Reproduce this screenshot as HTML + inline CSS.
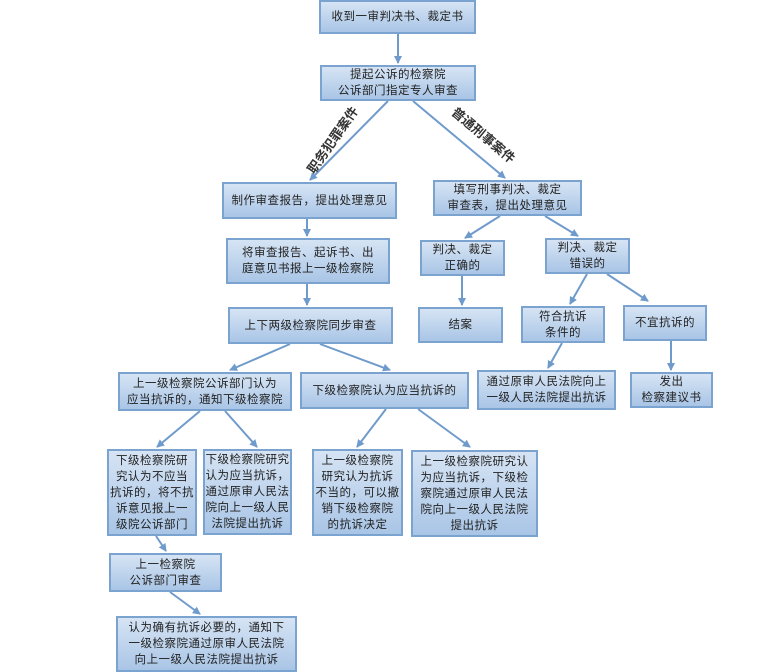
<!DOCTYPE html>
<html><head><meta charset="utf-8"><style>
body{margin:0;width:768px;height:670px;background:#fff;position:relative;overflow:hidden;font-family:"Liberation Sans","Noto Sans CJK SC",sans-serif}
.b{position:absolute;box-sizing:border-box;border:2px solid #7aa3cf;background:linear-gradient(#d6e4f4,#a9c5e6);display:flex;align-items:center;justify-content:center;text-align:center;font-size:11.5px;line-height:16px;color:#222;letter-spacing:0.5px}
svg{position:absolute;left:0;top:0}
.r{position:absolute;font-size:13px;font-weight:bold;color:#333;white-space:nowrap}
</style></head><body>
<svg width="768" height="670"><defs><marker id="a" markerWidth="8" markerHeight="8" refX="7" refY="4" orient="auto" markerUnits="userSpaceOnUse"><path d="M0,0 L8,4 L0,8 z" fill="#6f9bcc"/></marker></defs>
<g stroke="#6f9bcc" stroke-width="2" fill="none" marker-end="url(#a)">
<line x1="398" y1="34" x2="398" y2="63"/>
<line x1="388" y1="101" x2="310" y2="180"/>
<line x1="413" y1="101" x2="505" y2="178"/>
<line x1="307" y1="219" x2="307" y2="236"/>
<line x1="307" y1="284" x2="307" y2="305"/>
<line x1="500" y1="216" x2="465" y2="238"/>
<line x1="545" y1="216" x2="578" y2="236"/>
<line x1="462" y1="276" x2="462" y2="305"/>
<line x1="587" y1="274" x2="570" y2="304"/>
<line x1="607" y1="274" x2="648" y2="301"/>
<line x1="562" y1="343" x2="548" y2="368"/>
<line x1="671" y1="341" x2="671" y2="370"/>
<line x1="290" y1="344" x2="230" y2="370"/>
<line x1="320" y1="344" x2="390" y2="370"/>
<line x1="200" y1="411" x2="157" y2="447"/>
<line x1="225" y1="411" x2="257" y2="447"/>
<line x1="386" y1="409" x2="357" y2="447"/>
<line x1="418" y1="409" x2="470" y2="447"/>
<line x1="156" y1="536" x2="166" y2="551"/>
<line x1="170" y1="592" x2="200" y2="614"/>
</g></svg>
<div class="r" style="left:293px;top:130px;transform:rotate(-55deg)">职务犯罪案件</div>
<div class="r" style="left:445px;top:125px;transform:rotate(40deg)">普通刑事案件</div>
<div class="b" style="left:319px;top:0;width:157px;height:34px">收到一审判决书、裁定书</div>
<div class="b" style="left:320px;top:65px;width:156px;height:36px">提起公诉的检察院<br>公诉部门指定专人审查</div>
<div class="b" style="left:222px;top:182px;width:175px;height:37px">制作审查报告，提出处理意见</div>
<div class="b" style="left:433px;top:180px;width:149px;height:36px">填写刑事判决、裁定<br>审查表，提出处理意见</div>
<div class="b" style="left:226px;top:238px;width:164px;height:46px">将审查报告、起诉书、出<br>庭意见书报上一级检察院</div>
<div class="b" style="left:420px;top:240px;width:85px;height:36px">判决、裁定<br>正确的</div>
<div class="b" style="left:545px;top:238px;width:85px;height:36px">判决、裁定<br>错误的</div>
<div class="b" style="left:228px;top:307px;width:165px;height:37px">上下两级检察院同步审查</div>
<div class="b" style="left:418px;top:307px;width:85px;height:36px">结案</div>
<div class="b" style="left:521px;top:306px;width:84px;height:37px">符合抗诉<br>条件的</div>
<div class="b" style="left:623px;top:305px;width:84px;height:36px">不宜抗诉的</div>
<div class="b" style="left:118px;top:372px;width:174px;height:39px">上一级检察院公诉部门认为<br>应当抗诉的，通知下级检察院</div>
<div class="b" style="left:300px;top:372px;width:169px;height:37px">下级检察院认为应当抗诉的</div>
<div class="b" style="left:477px;top:370px;width:139px;height:40px">通过原审人民法院向上<br>一级人民法院提出抗诉</div>
<div class="b" style="left:630px;top:372px;width:83px;height:36px">发出<br>检察建议书</div>
<div class="b" style="left:107px;top:449px;width:90px;height:87px">下级检察院研<br>究认为不应当<br>抗诉的，将不抗<br>诉意见报上一<br>级院公诉部门</div>
<div class="b" style="left:203px;top:449px;width:89px;height:86px">下级检察院研究<br>认为应当抗诉，<br>通过原审人民法<br>院向上一级人民<br>法院提出抗诉</div>
<div class="b" style="left:312px;top:449px;width:91px;height:87px">上一级检察院<br>研究认为抗诉<br>不当的，可以撤<br>销下级检察院<br>的抗诉决定</div>
<div class="b" style="left:411px;top:450px;width:127px;height:87px">上一级检察院研究认<br>为应当抗诉，下级检<br>察院通过原审人民法<br>院向上一级人民法院<br>提出抗诉</div>
<div class="b" style="left:109px;top:553px;width:113px;height:39px">上一检察院<br>公诉部门审查</div>
<div class="b" style="left:116px;top:616px;width:181px;height:56px">认为确有抗诉必要的，通知下<br>一级检察院通过原审人民法院<br>向上一级人民法院提出抗诉</div>
</body></html>
